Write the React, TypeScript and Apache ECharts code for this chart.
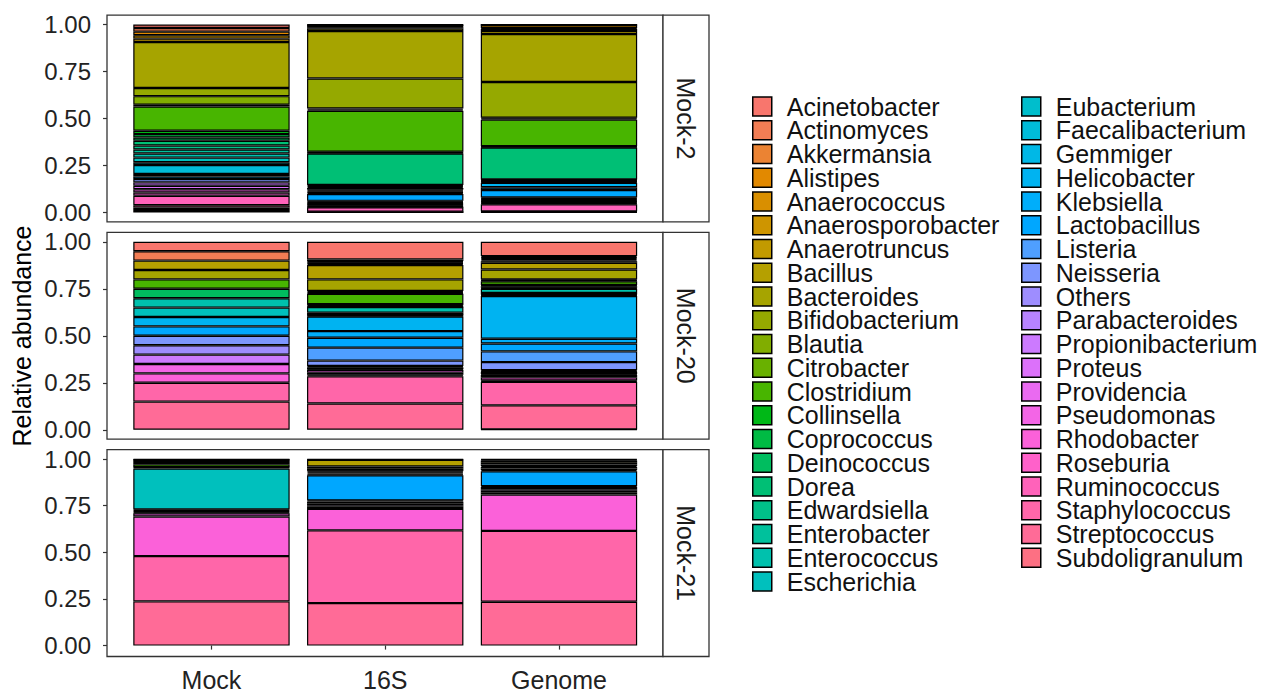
import React, { useEffect, useRef } from "react";
import * as echarts from "echarts";

const taxa = [
  "Acinetobacter", "Actinomyces", "Akkermansia", "Alistipes", "Anaerococcus",
  "Anaerosporobacter", "Anaerotruncus", "Bacillus", "Bacteroides", "Bifidobacterium",
  "Blautia", "Citrobacter", "Clostridium", "Collinsella", "Coprococcus",
  "Deinococcus", "Dorea", "Edwardsiella", "Enterobacter", "Enterococcus",
  "Escherichia", "Eubacterium", "Faecalibacterium", "Gemmiger", "Helicobacter",
  "Klebsiella", "Lactobacillus", "Listeria", "Neisseria", "Others",
  "Parabacteroides", "Propionibacterium", "Proteus", "Providencia", "Pseudomonas",
  "Rhodobacter", "Roseburia", "Ruminococcus", "Staphylococcus", "Streptococcus",
  "Subdoligranulum",
];

const samples = ["Mock", "16S", "Genome"];
const panels = ["Mock-2", "Mock-20", "Mock-21"];

// values in taxa order (index 0..40)
const mock2Mock = [
  0.019, 0.019, 0, 0.019, 0, 0.018, 0.018, 0, 0.245, 0.043,
  0.046, 0.009, 0.129, 0.018, 0.018, 0.017, 0.026, 0.021, 0.021, 0.022,
  0.025, 0.014, 0.048, 0, 0.013, 0.014, 0, 0, 0.018, 0,
  0, 0.018, 0.018, 0, 0.018, 0.017, 0, 0.05, 0.013, 0.013,
  0.013,
];
const mock2S16 = [
  0.002, 0.002, 0.002, 0.002, 0.003, 0.003, 0.008, 0.013, 0.252, 0.16,
  0.006, 0.006, 0.218, 0.003, 0.003, 0.003, 0.168, 0.005, 0.005, 0.006,
  0.008, 0.004, 0.006, 0.004, 0.004, 0.006, 0.036, 0.004, 0.004, 0.004,
  0.003, 0.004, 0.003, 0.003, 0.004, 0.003, 0.002, 0.024, 0.002, 0.001,
  0.001,
];
const mock2Genome = [
  0.001, 0.001, 0.001, 0.001, 0.016, 0.004, 0.011, 0.016, 0.255, 0.19,
  0.004, 0.006, 0.142, 0.002, 0.002, 0.002, 0.17, 0.002, 0.002, 0.003,
  0.003, 0.002, 0.002, 0.004, 0.024, 0.014, 0.04, 0.004, 0.004, 0.004,
  0.003, 0.004, 0.003, 0.003, 0.004, 0.004, 0.003, 0.038, 0.002, 0.002,
  0.002,
];
const mock20Mock = [
  0.05, 0.05, 0, 0, 0, 0, 0, 0.05, 0.05, 0,
  0, 0, 0.05, 0, 0, 0.05, 0, 0, 0, 0.05,
  0.05, 0, 0, 0, 0.05, 0, 0.05, 0, 0.05, 0.05,
  0, 0.05, 0, 0, 0.05, 0.05, 0, 0, 0.1, 0.15,
  0,
];
const mock20S16 = [
  0.094, 0.008, 0.004, 0.004, 0.004, 0.004, 0.006, 0.076, 0.062, 0.005,
  0.005, 0.004, 0.056, 0.002, 0.002, 0.006, 0.003, 0.002, 0, 0.03,
  0.012, 0.002, 0.003, 0.003, 0.078, 0.035, 0.053, 0.069, 0.028, 0.005,
  0.003, 0.008, 0.003, 0.003, 0.015, 0.01, 0.003, 0.005, 0.145, 0.14,
  0,
];
const mock20Genome = [
  0.076, 0.006, 0.004, 0.006, 0.006, 0.006, 0.008, 0.035, 0.053, 0.004,
  0.003, 0.003, 0.02, 0.003, 0.003, 0.008, 0.003, 0.003, 0, 0.022,
  0.008, 0.002, 0.003, 0.003, 0.228, 0.025, 0.042, 0.057, 0.043, 0.005,
  0.003, 0.012, 0.003, 0.003, 0.012, 0.017, 0.003, 0.004, 0.125, 0.128,
  0.002,
];
const mock21Mock = [
  0.002, 0.002, 0, 0, 0, 0, 0, 0.012, 0.012, 0,
  0, 0, 0.015, 0, 0, 0.002, 0, 0, 0, 0.005,
  0.22, 0, 0, 0, 0.004, 0, 0.004, 0, 0.004, 0.004,
  0, 0.004, 0, 0, 0.018, 0.212, 0, 0, 0.243, 0.237,
  0,
];
const mock21S16 = [
  0.002, 0.002, 0, 0, 0, 0, 0, 0.036, 0.012, 0,
  0, 0, 0.01, 0, 0, 0.003, 0, 0, 0, 0.006,
  0.006, 0, 0, 0, 0.006, 0.004, 0.135, 0.005, 0.012, 0.008,
  0, 0.008, 0, 0, 0.012, 0.115, 0, 0, 0.39, 0.228,
  0,
];
const mock21Genome = [
  0.003, 0.004, 0, 0, 0, 0, 0, 0.01, 0.012, 0,
  0, 0, 0.008, 0, 0, 0.006, 0, 0, 0, 0.008,
  0.008, 0, 0, 0, 0.006, 0, 0.08, 0.005, 0.012, 0.008,
  0, 0.008, 0, 0, 0.012, 0.195, 0, 0, 0.38, 0.235,
  0,
];

const panelData = [
  [mock2Mock, mock2S16, mock2Genome],
  [mock20Mock, mock20S16, mock20Genome],
  [mock21Mock, mock21S16, mock21Genome],
];

// ggplot2 default hue palette (HCL, c = 100, l = 65)
function hclHex(h: number, c: number, l: number): string {
  const hr = (h * Math.PI) / 180;
  const U = c * Math.cos(hr);
  const V = c * Math.sin(hr);
  const Xn = 95.047, Yn = 100, Zn = 108.883;
  const den = Xn + 15 * Yn + 3 * Zn;
  const un = (4 * Xn) / den;
  const vn = (9 * Yn) / den;
  const Y = l > 8 ? Yn * Math.pow((l + 16) / 116, 3) : (Yn * l) / 903.3;
  const u = U / (13 * l) + un;
  const v = V / (13 * l) + vn;
  const X = (9 * Y * u) / (4 * v);
  const Z = -X / 3 - 5 * Y + (3 * Y) / v;
  const x = X / 100, y = Y / 100, z = Z / 100;
  const lin = [
    3.240479 * x - 1.53715 * y - 0.498535 * z,
    -0.969256 * x + 1.875992 * y + 0.041556 * z,
    0.055648 * x - 0.204043 * y + 1.057311 * z,
  ];
  const hex = lin
    .map((c0) => {
      let g = c0 <= 0.0031308 ? 12.92 * c0 : 1.055 * Math.pow(c0, 1 / 2.4) - 0.055;
      g = Math.min(1, Math.max(0, g));
      return Math.round(g * 255).toString(16).padStart(2, "0");
    })
    .join("");
  return "#" + hex;
}

const colors = taxa.map((_, i) => hclHex(15 + (i * 360) / taxa.length, 100, 65));

const FONT = "'Liberation Sans', Arial, Helvetica, sans-serif";
const PANEL_LEFT = 107;
const PANEL_RIGHT = 663;
const STRIP_W = 46;
const GRID_LEFT = 124.6;
const GRID_W = 521.25;
const Y1 = [24.5, 241.8, 459.1];
const UNIT = 188;
const EXP = 9.4;

export default function App() {
  const ref = useRef<HTMLDivElement>(null);

  useEffect(() => {
    if (!ref.current) return;
    const chart = echarts.init(ref.current, undefined, { renderer: "svg" });

    const grids = panels.map((_, p) => ({
      left: GRID_LEFT,
      width: GRID_W,
      top: Y1[p],
      height: UNIT,
      containLabel: false,
    }));

    const xAxes = panels.map((_, p) => ({
      type: "category",
      gridIndex: p,
      data: samples,
      offset: EXP,
      axisLine: { show: false },
      axisTick: {
        show: p === 2,
        alignWithLabel: true,
        length: 4,
        lineStyle: { color: "#333", width: 1.2 },
      },
      axisLabel: {
        show: p === 2,
        fontSize: 25,
        fontFamily: FONT,
        color: "#222",
        margin: 12,
      },
      splitLine: { show: false },
    }));

    const yAxes = panels.map((_, p) => ({
      type: "value",
      gridIndex: p,
      min: 0,
      max: 1,
      interval: 0.25,
      offset: GRID_LEFT - PANEL_LEFT,
      axisLine: { show: false },
      axisTick: { show: true, length: 4, lineStyle: { color: "#333", width: 1.2 } },
      axisLabel: {
        fontSize: 24,
        fontFamily: FONT,
        color: "#222",
        margin: 16,
        formatter: (v: number) => v.toFixed(2),
      },
      splitLine: { show: false },
    }));

    const series: any[] = [];
    panels.forEach((_, p) => {
      for (let i = taxa.length - 1; i >= 0; i--) {
        series.push({
          type: "bar",
          name: taxa[i],
          xAxisIndex: p,
          yAxisIndex: p,
          stack: "panel" + p,
          barWidth: "90%",
          data: panelData[p].map((arr) => (arr[i] > 0 ? arr[i] : null)),
          itemStyle: { color: colors[i], borderColor: "#000", borderWidth: 1.2 },
          emphasis: { disabled: true },
        });
      }
    });

    const legendBase = {
      orient: "vertical",
      top: 94,
      height: 580,
      padding: 0,
      itemWidth: 19,
      itemHeight: 19,
      itemGap: -1.25,
      icon: "rect",
      selectedMode: false,
      itemStyle: { borderColor: "#000", borderWidth: 1.5 },
      textStyle: {
        fontSize: 25,
        fontFamily: FONT,
        color: "#111",
        padding: [0, 0, 0, 10],
      },
    };

    const graphic: any[] = [];
    panels.forEach((name, p) => {
      const top = Y1[p] - EXP;
      const h = UNIT + 2 * EXP;
      graphic.push({
        type: "rect",
        shape: { x: PANEL_LEFT, y: top, width: PANEL_RIGHT - PANEL_LEFT, height: h },
        style: { fill: "none", stroke: "#333", lineWidth: 1.3 },
        z: 100,
        silent: true,
      });
      graphic.push({
        type: "rect",
        shape: { x: PANEL_RIGHT, y: top, width: STRIP_W, height: h },
        style: { fill: "#fff", stroke: "#333", lineWidth: 1.3 },
        z: 100,
        silent: true,
      });
      graphic.push({
        type: "text",
        x: PANEL_RIGHT + STRIP_W / 2,
        y: top + h / 2,
        rotation: -Math.PI / 2,
        style: {
          text: name,
          fontSize: 25,
          fontFamily: FONT,
          fill: "#1a1a1a",
          align: "center",
          verticalAlign: "middle",
        },
        z: 101,
        silent: true,
      });
    });
    graphic.push({
      type: "text",
      x: 22,
      y: 336,
      rotation: Math.PI / 2,
      style: {
        text: "Relative abundance",
        fontSize: 25,
        fontFamily: FONT,
        fill: "#000",
        align: "center",
        verticalAlign: "middle",
      },
      silent: true,
    });

    chart.setOption({
      animation: false,
      backgroundColor: "#fff",
      grid: grids,
      xAxis: xAxes,
      yAxis: yAxes,
      legend: [
        { ...legendBase, left: 752, data: taxa.slice(0, 21) },
        { ...legendBase, left: 1021, data: taxa.slice(21) },
      ],
      series,
      graphic,
    });

    return () => chart.dispose();
  }, []);

  return (
    <div
      ref={ref}
      style={{ position: "absolute", left: 0, top: 0, width: 1263, height: 692, background: "#fff" }}
    />
  );
}
